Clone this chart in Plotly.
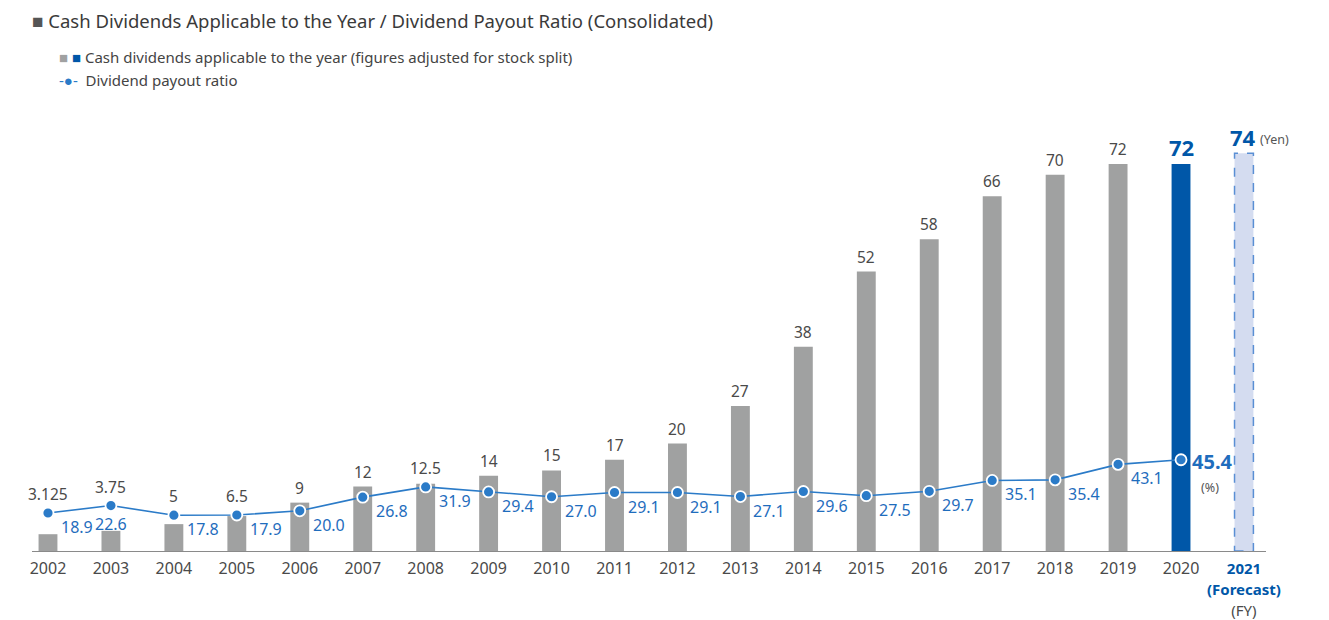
import plotly.graph_objects as go

# Fiscal years and values
years = list(range(2002, 2022))
dividends = [3.125, 3.75, 5, 6.5, 9, 12, 12.5, 14, 15, 17, 20, 27, 38, 52, 58, 66, 70, 72, 72, 74]
dividend_labels = ["3.125", "3.75", "5", "6.5", "9", "12", "12.5", "14", "15", "17", "20", "27",
                   "38", "52", "58", "66", "70", "72", "72", "74"]
payout_years = list(range(2002, 2021))
payout_ratio = [18.9, 22.6, 17.8, 17.9, 20.0, 26.8, 31.9, 29.4, 27.0, 29.1, 29.1, 27.1,
                29.6, 27.5, 29.7, 35.1, 35.4, 43.1, 45.4]
tick_labels = [str(y) for y in years[:-1]] + ["2021"]

FONT = "Noto Sans"
GRAY_BAR = "#a0a1a1"
BLUE_BAR = "#0057a8"
FORECAST_FILL = "#d4dcf0"
FORECAST_EDGE = "#5a8fd4"
LINE_BLUE = "#2b7bc8"
LABEL_BLUE = "#1f6dbd"
TEXT_GRAY = "#4a4a4a"

Y1_MAX = 82.05
Y2_MAX = 219.4
BAR_W = 0.30

ML, MR, MT, MB = 32, 63, 110, 69
W, H = 1329, 620
plot_h = H - MT - MB
plot_w = W - ML - MR
px_per_y1 = plot_h / Y1_MAX
scale = Y1_MAX / Y2_MAX

bar_colors = [GRAY_BAR] * (len(years) - 2) + [BLUE_BAR, FORECAST_FILL]

fig = go.Figure()

# actual years (bars)
fig.add_trace(go.Bar(
    x=years[:-1], y=dividends[:-1], width=BAR_W,
    marker=dict(color=bar_colors[:-1], line=dict(width=0)),
    hoverinfo="skip", showlegend=False,
))
# forecast year bar
fig.add_trace(go.Bar(
    x=[years[-1]], y=[dividends[-1]], width=BAR_W,
    marker=dict(color=FORECAST_FILL, line=dict(width=0)),
    hoverinfo="skip", showlegend=False,
))
# dashed outline for the forecast bar
fig.add_shape(
    type="rect", xref="x", yref="y",
    x0=years[-1] - BAR_W / 2, x1=years[-1] + BAR_W / 2, y0=0, y1=dividends[-1],
    line=dict(color=FORECAST_EDGE, width=1.5, dash="dash"), fillcolor="rgba(0,0,0,0)",
    layer="above",
)

# payout ratio line
fig.add_trace(go.Scatter(
    x=payout_years, y=payout_ratio, yaxis="y2", mode="lines+markers",
    line=dict(color=LINE_BLUE, width=1.6),
    marker=dict(size=11, color=LINE_BLUE, line=dict(color="white", width=1.8)),
    hoverinfo="skip", showlegend=False,
))

annotations = []

# bar value labels: sit above the bar, or above the line marker if that is higher
for i, (yr, val, lab) in enumerate(zip(years, dividends, dividend_labels)):
    if yr >= 2020:
        continue
    above_bar = val + 2 / px_per_y1
    above_point = payout_ratio[i] * scale + 6 / px_per_y1
    annotations.append(dict(x=yr, y=max(above_bar, above_point), yref="y", text=lab, showarrow=False,
                            yanchor="bottom",
                            font=dict(family=FONT, size=15.5, color=TEXT_GRAY)))

# highlighted values for 2020 and forecast
annotations.append(dict(x=2020, y=dividends[-2], yref="y", text="<b>72</b>", showarrow=False,
                        yanchor="bottom", yshift=0,
                        font=dict(family=FONT, size=22, color=BLUE_BAR)))
annotations.append(dict(x=2021, y=dividends[-1], yref="y", text="<b>74</b>", showarrow=False,
                        yanchor="bottom", yshift=-1, xshift=-1,
                        font=dict(family=FONT, size=22, color=BLUE_BAR)))
annotations.append(dict(x=2021, y=dividends[-1], yref="y", text="(Yen)", showarrow=False,
                        xanchor="left", yanchor="bottom", xshift=14, yshift=3,
                        font=dict(family=FONT, size=12.5, color="#555555")))

# payout ratio labels
for yr, r in zip(payout_years, payout_ratio):
    if yr == 2020:
        annotations.append(dict(x=yr, y=r, yref="y2", text="<b>%.1f</b>" % r, showarrow=False,
                                xanchor="left", yanchor="middle", xshift=9, yshift=-2,
                                font=dict(family=FONT, size=20, color=LABEL_BLUE)))
        annotations.append(dict(x=yr, y=r, yref="y2", text="(%)", showarrow=False,
                                xanchor="left", yanchor="middle", xshift=18, yshift=-28,
                                font=dict(family=FONT, size=12.5, color="#555555")))
    elif yr == 2003:
        annotations.append(dict(x=yr, y=r, yref="y2", text="%.1f" % r, showarrow=False,
                                xanchor="center", yanchor="middle", yshift=-18,
                                font=dict(family=FONT, size=16, color=LABEL_BLUE)))
    else:
        annotations.append(dict(x=yr, y=r, yref="y2", text="%.1f" % r, showarrow=False,
                                xanchor="left", yanchor="middle", xshift=11, yshift=-14,
                                font=dict(family=FONT, size=16, color=LABEL_BLUE)))


# title and legend rows, positioned in pixels converted to paper coordinates
def paper_xy(px, py):
    return (px - ML) / plot_w, (H - MB - py) / plot_h


header_rows = [
    ((30, 21), "<span style='color:#555555;font-size:19px'>■</span> Cash Dividends Applicable to the Year / Dividend Payout Ratio (Consolidated)", 18.5, "#3a3a3a"),
    ((57, 57), "<span style='color:#a0a1a1;font-size:15px'>■</span> <span style='color:#0057a8;font-size:15px'>■</span> Cash dividends applicable to the year (figures adjusted for stock split)", 15, "#444444"),
    ((57, 80), "<span style='color:#2b7bc8'>-●-</span>  Dividend payout ratio", 15, "#444444"),
]
for (px, py), txt, size, col in header_rows:
    ax, ay = paper_xy(px, py)
    annotations.append(dict(xref="paper", yref="paper", x=ax, y=ay, xanchor="left", yanchor="middle",
                            text=txt, showarrow=False, font=dict(family=FONT, size=size, color=col)))

tick_text = tick_labels[:-1] + [
    "<span style='color:#0057a8;font-size:15px'><b>2021</b></span><br>"
    "<span style='color:#0057a8;font-size:15px'><b>(Forecast)</b></span><br>"
    "<span style='font-size:15px'>(FY)</span>"
]

fig.update_layout(
    width=W, height=H,
    margin=dict(l=ML, r=MR, t=MT, b=MB, autoexpand=False),
    paper_bgcolor="white", plot_bgcolor="white",
    barmode="overlay",
    xaxis=dict(range=[2001.746, 2021.35], tickvals=years, ticktext=tick_text, automargin=False,
               showgrid=False, zeroline=False, showline=True, linecolor="#8a8a8a", linewidth=1,
               ticks="outside", ticklen=3, tickcolor="rgba(0,0,0,0)",
               tickfont=dict(family=FONT, size=16, color=TEXT_GRAY), fixedrange=True),
    yaxis=dict(range=[0, Y1_MAX], visible=False, fixedrange=True),
    yaxis2=dict(range=[0, Y2_MAX], overlaying="y", visible=False, fixedrange=True),
    annotations=annotations,
    showlegend=False,
)

fig.write_html("out.html")
